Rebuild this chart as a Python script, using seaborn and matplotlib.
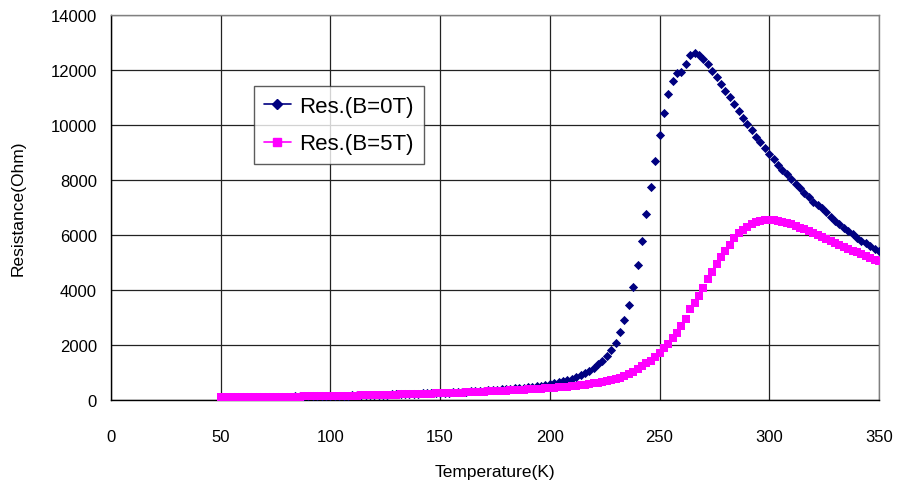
import matplotlib
matplotlib.use("Agg")
import matplotlib.pyplot as plt
from matplotlib.lines import Line2D
from matplotlib.ticker import MultipleLocator
import seaborn as sns
import pandas as pd

# temperature grid (K), one reading every 2 K
temperature = [
    50, 52, 54, 56, 58, 60, 62, 64, 66, 68, 70, 72, 74, 76, 78, 80, 82, 84, 86, 88, 90, 92, 94, 96, 98,
    100, 102, 104, 106, 108, 110, 112, 114, 116, 118, 120, 122, 124, 126, 128, 130, 132, 134, 136, 138, 140, 142, 144, 146, 148,
    150, 152, 154, 156, 158, 160, 162, 164, 166, 168, 170, 172, 174, 176, 178, 180, 182, 184, 186, 188, 190, 192, 194, 196, 198,
    200, 202, 204, 206, 208, 210, 212, 214, 216, 218, 220, 222, 224, 226, 228, 230, 232, 234, 236, 238, 240, 242, 244, 246, 248,
    250, 252, 254, 256, 258, 260, 262, 264, 266, 268, 270, 272, 274, 276, 278, 280, 282, 284, 286, 288, 290, 292, 294, 296, 298,
    300, 302, 304, 306, 308, 310, 312, 314, 316, 318, 320, 322, 324, 326, 328, 330, 332, 334, 336, 338, 340, 342, 344, 346, 348, 350,
]

# resistance at B = 0 T (Ohm)
res_0T = [
    98, 99, 101, 102, 104, 105, 107, 108, 110, 112, 114, 116, 118, 120, 122, 124, 126, 128, 130, 133, 135, 138, 140, 143, 146,
    149, 152, 155, 158, 162, 165, 169, 172, 176, 180, 184, 188, 192, 196, 200, 205, 210, 215, 220, 225, 230, 236, 242, 248, 254,
    260, 266, 272, 279, 287, 295, 303, 312, 321, 330, 340, 350, 361, 372, 383, 395, 408, 421, 435, 450, 466, 482, 500, 518, 545,
    575, 610, 645, 685, 725, 770, 830, 900, 980, 1070, 1180, 1300, 1430, 1590, 1807, 2087, 2462, 2898, 3454, 4109, 4898, 5795, 6764, 7758, 8679,
    9636, 10449, 11140, 11612, 11903, 11927, 12206, 12545, 12606, 12545, 12388, 12206, 11976, 11733, 11503, 11249, 11006, 10752, 10522, 10267, 10037, 9806, 9576, 9370, 9152,
    8946, 8764, 8546, 8364, 8207, 8037, 7855, 7697, 7540, 7382, 7213, 7091, 6970, 6837, 6655, 6522, 6400, 6267, 6158, 6037, 5904, 5795, 5698, 5589, 5492, 5400,
]

# resistance at B = 5 T (Ohm)
res_5T = [
    95, 96, 98, 99, 101, 102, 104, 105, 107, 108, 110, 112, 114, 116, 118, 120, 122, 124, 126, 128, 131, 133, 136, 138, 141,
    144, 147, 150, 153, 156, 159, 162, 166, 169, 173, 176, 180, 184, 188, 192, 196, 200, 205, 209, 214, 219, 224, 229, 234, 240,
    246, 251, 256, 261, 266, 272, 278, 284, 290, 297, 304, 311, 318, 326, 334, 342, 350, 358, 367, 376, 385, 394, 403, 412, 421,
    430, 445, 460, 475, 490, 505, 520, 540, 560, 580, 600, 625, 650, 680, 715, 760, 810, 870, 945, 1030, 1130, 1230, 1330, 1430, 1560,
    1720, 1880, 2051, 2243, 2451, 2680, 2950, 3300, 3530, 3781, 4061, 4400, 4655, 4940, 5190, 5418, 5636, 5905, 6061, 6181, 6305, 6400, 6461, 6509, 6534,
    6545, 6534, 6509, 6472, 6436, 6389, 6341, 6268, 6207, 6145, 6072, 6000, 5941, 5868, 5796, 5723, 5650, 5578, 5505, 5432, 5370, 5298, 5225, 5163, 5105, 5054,
]

series_names = ["Res.(B=0T)", "Res.(B=5T)"]
colors = {"Res.(B=0T)": "#000080", "Res.(B=5T)": "#FF00FF"}

sns.set_style("white")
plt.rcParams["font.family"] = ["Liberation Sans", "DejaVu Sans"]
plt.rcParams["text.color"] = "black"
plt.rcParams["axes.labelcolor"] = "black"
plt.rcParams["xtick.color"] = "black"
plt.rcParams["ytick.color"] = "black"

df = pd.concat([
    pd.DataFrame({"T": temperature, "R": res_0T, "series": series_names[0]}),
    pd.DataFrame({"T": temperature, "R": res_5T, "series": series_names[1]}),
])

fig = plt.figure(figsize=(8.98, 4.89), dpi=100)
ax = fig.add_axes([0.1236, 0.18, 0.8552, 0.7873])

# blue first, magenta on top of it
sns.scatterplot(data=df[df["series"] == series_names[0]], x="T", y="R", marker="D",
                color=colors[series_names[0]], s=22, linewidth=0, ax=ax, zorder=3)
sns.scatterplot(data=df[df["series"] == series_names[1]], x="T", y="R", marker="s",
                color=colors[series_names[1]], s=30, linewidth=0, ax=ax, zorder=4)

ax.set_xlim(0, 350)
ax.set_ylim(0, 14000)
ax.xaxis.set_major_locator(MultipleLocator(50))
ax.xaxis.set_minor_locator(MultipleLocator(10))
ax.yaxis.set_major_locator(MultipleLocator(2000))

ax.grid(True, which="major", color="#222222", linewidth=0.9)
ax.set_axisbelow(True)

for side in ["left", "bottom"]:
    ax.spines[side].set_color("black")
    ax.spines[side].set_linewidth(1.0)
for side in ["top", "right"]:
    ax.spines[side].set_color("#808080")
    ax.spines[side].set_linewidth(1.0)

ax.tick_params(axis="x", which="both", direction="in", length=3, width=0.8,
               color="black", labelcolor="black", pad=21, labelsize=12)
ax.tick_params(axis="y", which="major", direction="in", length=0,
               labelcolor="black", pad=10, labelsize=12)

ax.set_xlabel("Temperature(K)", fontsize=12.5, labelpad=14, color="black")
ax.set_ylabel("Resistance(Ohm)", fontsize=12.5, labelpad=18, color="black")

handles = [
    Line2D([0], [0], color=colors[series_names[0]], lw=1.2, marker="D", markersize=5),
    Line2D([0], [0], color=colors[series_names[1]], lw=1.2, marker="s", markersize=6),
]
leg = ax.legend(handles, series_names, loc="upper left", bbox_to_anchor=(0.186, 0.816),
                borderaxespad=0, fontsize=16, frameon=True, fancybox=False,
                handlelength=1.2, handletextpad=0.4, borderpad=0.45, labelspacing=0.75)
leg.get_frame().set_edgecolor("#333333")
leg.get_frame().set_linewidth(1.0)
for txt in leg.get_texts():
    txt.set_color("black")

fig.savefig("out.png", dpi=100)
